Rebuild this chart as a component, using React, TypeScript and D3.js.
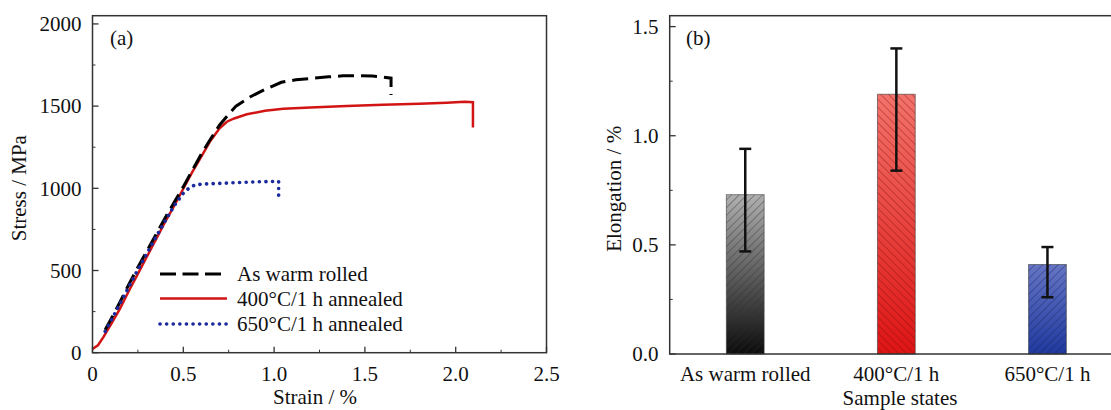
import React from "react";
import * as d3 from "d3";

// ---------- Panel (a) data: stress-strain curves ----------
const warmStrain = [0.07, 0.1, 0.15, 0.2, 0.25, 0.3, 0.35, 0.4, 0.45, 0.5, 0.55, 0.6, 0.65, 0.7, 0.75, 0.79, 0.87, 0.95, 1.04, 1.12, 1.22, 1.3, 1.38, 1.46, 1.54, 1.6, 1.644, 1.644];
const warmStress = [140, 200, 305, 415, 520, 620, 720, 820, 915, 1010, 1110, 1210, 1300, 1385, 1450, 1500, 1557, 1602, 1645, 1660, 1670, 1678, 1684, 1685, 1683, 1677, 1670, 1568];

const ann400Strain = [0.0, 0.03, 0.06, 0.1, 0.15, 0.2, 0.257, 0.3, 0.35, 0.4, 0.45, 0.494, 0.55, 0.6, 0.65, 0.7, 0.74, 0.78, 0.85, 0.95, 1.05, 1.2, 1.4, 1.6, 1.8, 1.95, 2.05, 2.095, 2.095];
const ann400Stress = [22, 45, 95, 170, 265, 375, 495, 585, 690, 795, 895, 985, 1100, 1195, 1290, 1365, 1405, 1425, 1450, 1472, 1484, 1492, 1500, 1508, 1514, 1520, 1526, 1524, 1370];

const ann650Strain = [0.07, 0.1, 0.15, 0.2, 0.25, 0.3, 0.35, 0.4, 0.45, 0.5, 0.53, 0.56, 0.6, 0.7, 0.8, 0.9, 1.0, 1.025, 1.025];
const ann650Stress = [130, 190, 295, 400, 505, 605, 705, 800, 895, 970, 1000, 1018, 1026, 1030, 1035, 1039, 1042, 1042, 950];

const xTicksA = [0, 0.5, 1.0, 1.5, 2.0, 2.5];
const xTickLabelsA = ["0", "0.5", "1.0", "1.5", "2.0", "2.5"];
const yTicksA = [0, 500, 1000, 1500, 2000];
const legendLabels = ["As warm rolled", "400°C/1 h annealed", "650°C/1 h annealed"];

// ---------- Panel (b) data: elongation bars ----------
const states = ["As warm rolled", "400°C/1 h", "650°C/1 h"];
const elongation = [0.73, 1.19, 0.41];
const errLow = [0.47, 0.84, 0.26];
const errHigh = [0.94, 1.40, 0.49];
const yTicksB = [0.0, 0.5, 1.0, 1.5];
const yTickLabelsB = ["0.0", "0.5", "1.0", "1.5"];

const FONT = "'Liberation Serif', 'Times New Roman', serif";

export default function App() {
  // Panel a scales
  const xA = d3.scaleLinear().domain([0, 2.5]).range([92.5, 546.5]);
  const yA = d3.scaleLinear().domain([0, 2050]).range([352.7, 15.7]);
  // Panel b scales
  const xB = d3.scaleBand<string>().domain(states).range([669.7, 1123]).paddingInner(0.75).paddingOuter(0.375);
  const yB = d3.scaleLinear().domain([0, 1.55]).range([354, 15.7]);

  const line = (xs: number[], ys: number[]) =>
    d3.line<number>().x((_, i) => xA(xs[i])).y((_, i) => yA(ys[i]))(xs) || "";

  const xMinorA = d3.range(0.25, 2.5, 0.5);
  const yMinorA = d3.range(250, 2050, 500);
  const yMinorB = [0.25, 0.75, 1.25];

  const barGrad = [
    ["#b0b0b0", "#0c0c0c"],
    ["#f2736a", "#de1414"],
    ["#6675c4", "#1f3a9e"],
  ];
  const hatchColor = ["#2a2a2a", "#7a0c0c", "#141e60"];
  const hatchRot = [45, -45, 45];

  const lineColors = ["#000000", "#d21414", "#1a2a9c"];

  return (
    <svg width={1111} height={410} style={{ position: "absolute", left: 0, top: 0, background: "#fff" }} fontFamily={FONT}>
      <defs>
        {barGrad.map((g, i) => (
          <linearGradient key={i} id={`grad${i}`} x1="0" y1="0" x2="0" y2="1">
            <stop offset="0" stopColor={g[0]} />
            <stop offset="1" stopColor={g[1]} />
          </linearGradient>
        ))}
        {hatchColor.map((c, i) => (
          <pattern key={i} id={`hatch${i}`} patternUnits="userSpaceOnUse" width={5.5} height={5.5} patternTransform={`rotate(${hatchRot[i]})`}>
            <line x1={0} y1={0} x2={0} y2={5.5} stroke={c} strokeWidth={1} strokeOpacity={0.75} />
          </pattern>
        ))}
      </defs>

      {/* ---------------- Panel (a) ---------------- */}
      <g>
        {/* curves */}
        <path d={line(ann400Strain, ann400Stress)} fill="none" stroke={lineColors[1]} strokeWidth={2.5} />
        <path d={line(warmStrain, warmStress)} fill="none" stroke={lineColors[0]} strokeWidth={3} strokeDasharray="16 7" />
        <path d={line(ann650Strain, ann650Stress)} fill="none" stroke={lineColors[2]} strokeWidth={3.6} strokeDasharray="0.1 6.5" strokeLinecap="round" />

        {/* frame */}
        <rect x={xA(0)} y={yA(2050)} width={xA(2.5) - xA(0)} height={yA(0) - yA(2050)} fill="none" stroke="#333" strokeWidth={1.5} />

        {/* ticks */}
        {xTicksA.map((t, i) => (
          <g key={"xa" + i}>
            <line x1={xA(t)} x2={xA(t)} y1={yA(0)} y2={yA(0) - 6} stroke="#333" strokeWidth={1.3} />
            <text x={xA(t)} y={381} textAnchor="middle" fontSize={21} fill="#111">{xTickLabelsA[i]}</text>
          </g>
        ))}
        {xMinorA.map((t, i) => (
          <line key={"xma" + i} x1={xA(t)} x2={xA(t)} y1={yA(0)} y2={yA(0) - 3} stroke="#333" strokeWidth={1} />
        ))}
        {yTicksA.map((t, i) => (
          <g key={"ya" + i}>
            <line x1={xA(0)} x2={xA(0) + 6} y1={yA(t)} y2={yA(t)} stroke="#333" strokeWidth={1.3} />
            <text x={81.5} y={yA(t)} dy="0.35em" textAnchor="end" fontSize={21} fill="#111">{t}</text>
          </g>
        ))}
        {yMinorA.map((t, i) => (
          <line key={"yma" + i} x1={xA(0)} x2={xA(0) + 3} y1={yA(t)} y2={yA(t)} stroke="#333" strokeWidth={1} />
        ))}

        <text x={110} y={45} fontSize={21} fill="#111">(a)</text>
        <text x={315} y={404} textAnchor="middle" fontSize={21} fill="#111">Strain / %</text>
        <text transform={`translate(26,${(yA(0) + yA(2050)) / 2 + 4}) rotate(-90)`} textAnchor="middle" fontSize={21} fill="#111">Stress / MPa</text>

        {/* legend */}
        {legendLabels.map((lab, i) => {
          const ly = [274, 298.5, 324][i];
          return (
            <g key={"lg" + i}>
              <line x1={160} x2={227} y1={ly} y2={ly} stroke={lineColors[i]}
                strokeWidth={i === 1 ? 2.5 : i === 2 ? 3.6 : 3}
                strokeDasharray={i === 0 ? "16 6.5" : i === 2 ? "0.1 6.5" : undefined}
                strokeLinecap={i === 2 ? "round" : "butt"} />
              <text x={237} y={ly + 7} fontSize={21} fill="#111">{lab}</text>
            </g>
          );
        })}
      </g>

      {/* ---------------- Panel (b) ---------------- */}
      <g>
        {states.map((s, i) => {
          const x = xB(s)!;
          const w = xB.bandwidth();
          const y = yB(elongation[i]);
          const h = yB(0) - y;
          return (
            <g key={"bar" + i}>
              <rect x={x} y={y} width={w} height={h} fill={`url(#grad${i})`} />
              <rect x={x} y={y} width={w} height={h} fill={`url(#hatch${i})`} />
              <rect x={x} y={y} width={w} height={h} fill="none" stroke="#3a3a3a" strokeOpacity={0.6} strokeWidth={1} />
            </g>
          );
        })}
        {states.map((s, i) => {
          const cx = xB(s)! + xB.bandwidth() / 2;
          return (
            <g key={"err" + i} stroke="#111" strokeWidth={2.5}>
              <line x1={cx} x2={cx} y1={yB(errHigh[i])} y2={yB(errLow[i])} />
              <line x1={cx - 6} x2={cx + 6} y1={yB(errHigh[i])} y2={yB(errHigh[i])} />
              <line x1={cx - 6} x2={cx + 6} y1={yB(errLow[i])} y2={yB(errLow[i])} />
            </g>
          );
        })}

        {/* frame */}
        <rect x={669.7} y={yB(1.55)} width={1123 - 669.7} height={yB(0) - yB(1.55)} fill="none" stroke="#333" strokeWidth={1.5} />

        {yTicksB.map((t, i) => (
          <g key={"yb" + i}>
            <line x1={669.7} x2={669.7 + 6} y1={yB(t)} y2={yB(t)} stroke="#333" strokeWidth={1.3} />
            <text x={658.5} y={yB(t)} dy="0.35em" textAnchor="end" fontSize={21} fill="#111">{yTickLabelsB[i]}</text>
          </g>
        ))}
        {yMinorB.map((t, i) => (
          <line key={"ymb" + i} x1={669.7} x2={669.7 + 3} y1={yB(t)} y2={yB(t)} stroke="#333" strokeWidth={1} />
        ))}
        {states.map((s, i) => (
          <text key={"xl" + i} x={xB(s)! + xB.bandwidth() / 2} y={381} textAnchor="middle" fontSize={21} fill="#111">{s}</text>
        ))}

        <text x={686} y={45} fontSize={21} fill="#111">(b)</text>
        <text x={900} y={405} textAnchor="middle" fontSize={21} fill="#111">Sample states</text>
        <text transform={`translate(621,${(yB(0) + yB(1.55)) / 2 + 4}) rotate(-90)`} textAnchor="middle" fontSize={21} fill="#111">Elongation / %</text>
      </g>
    </svg>
  );
}
